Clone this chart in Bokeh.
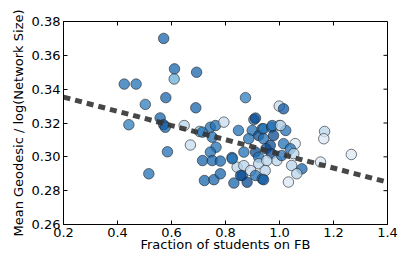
import math
from bokeh.plotting import figure
from bokeh.models import ColumnDataSource, FixedTicker, PrintfTickFormatter, Range1d
from bokeh.transform import linear_cmap
from bokeh.palettes import Blues256
from bokeh.embed import file_html
from bokeh.resources import INLINE

# fraction of students on FB, mean geodesic / log(network size), colour value
frac = [0.571, 0.611, 0.610, 0.425, 0.469, 0.503, 0.579, 0.693, 0.690, 0.558,
        0.442, 0.571, 0.577, 0.647, 0.670, 0.585, 0.516,
        0.874, 0.704, 0.715, 0.744, 0.763, 0.794, 0.751, 0.765, 0.744,
        0.715, 0.751, 0.781, 0.824, 0.848, 0.899, 0.905, 0.911, 0.722,
        0.757, 0.781, 0.831, 0.862, 0.880, 0.843, 0.868, 0.923, 0.936,
        0.886, 0.911, 0.923, 0.923, 0.868, 0.893, 0.856, 0.911, 0.936,
        0.999, 1.015, 0.941, 0.971, 0.999, 1.023, 0.978, 0.941, 1.058,
        1.015, 1.040, 0.966, 0.950, 0.971, 0.990, 0.953, 1.008, 1.045,
        1.083, 1.064, 0.947, 0.941, 1.033, 1.167, 1.164, 1.266, 1.152,
        1.053, 0.973, 1.004, 0.825]
geo = [0.370, 0.352, 0.346, 0.343, 0.343, 0.331, 0.335, 0.350, 0.329, 0.323,
       0.319, 0.319, 0.3175, 0.3185, 0.307, 0.303, 0.290,
       0.335, 0.315, 0.3146, 0.3175, 0.3185, 0.3205, 0.3116, 0.3057, 0.3028,
       0.2978, 0.2978, 0.2975, 0.2996, 0.3156, 0.3156, 0.322, 0.3229, 0.286,
       0.2865, 0.290, 0.2845, 0.289, 0.285, 0.2939, 0.3028, 0.3126, 0.3166,
       0.3107, 0.3028, 0.2998, 0.2959, 0.2948, 0.2919, 0.2890, 0.289, 0.287,
       0.330, 0.3284, 0.3166, 0.3175, 0.3185, 0.3156, 0.3126, 0.3107, 0.3078,
       0.3078, 0.3048, 0.3068, 0.3048, 0.3018, 0.2978, 0.2978, 0.3008, 0.2949,
       0.2929, 0.290, 0.2919, 0.2865, 0.2851, 0.315, 0.3107, 0.3014, 0.2969,
       0.3019, 0.3185, 0.3185, 0.2989]
shade = [0.8, 0.8, 0.5, 0.75, 0.75, 0.7, 0.8, 0.8, 0.8, 0.8,
         0.7, 0.9, 0.8, 0.3, 0.25, 0.75, 0.75,
         0.7, 0.45, 0.75, 0.75, 0.75, 0.25, 0.75, 0.75, 0.75,
         0.8, 0.8, 0.8, 0.75, 0.75, 0.75, 0.75, 0.9, 0.8,
         0.8, 0.8, 0.8, 0.8, 0.9, 0.3, 0.75, 0.9, 0.75,
         0.75, 0.9, 0.75, 0.3, 0.3, 0.25, 0.9, 0.75, 0.75,
         0.25, 0.85, 0.75, 0.75, 0.3, 0.75, 0.9, 0.75, 0.15,
         0.75, 0.75, 0.9, 0.9, 0.9, 0.3, 0.3, 0.75, 0.3,
         0.8, 0.3, 0.3, 0.85, 0.15, 0.3, 0.15, 0.15, 0.15,
         0.3, 0.75, 0.3, 0.75]

fit_x = [0.2, 1.4]
fit_y = [0.3353, 0.2850]

x_ticks = [0.2, 0.4, 0.6, 0.8, 1.0, 1.2, 1.4]
y_ticks = [0.26, 0.28, 0.30, 0.32, 0.34, 0.36, 0.38]

FONT = "DejaVu Sans"
FS = "13px"

p = figure(width=401, height=260, output_backend="svg", toolbar_location=None,
           x_range=Range1d(x_ticks[0], x_ticks[-1]), y_range=Range1d(y_ticks[0], y_ticks[-1]),
           min_border_left=63, min_border_right=14, min_border_top=21, min_border_bottom=36,
           x_axis_label="Fraction of students on FB",
           y_axis_label="Mean Geodesic / log(Network Size)")
p.grid.visible = False
p.outline_line_color = "black"
p.outline_line_width = 1
p.background_fill_color = "white"
p.border_fill_color = "white"

src = ColumnDataSource(dict(x=frac, y=geo, c=shade))
p.scatter("x", "y", source=src, size=10.5,
          fill_color=linear_cmap("c", list(reversed(Blues256)), 0, 1),
          fill_alpha=0.75, line_color="#222222", line_alpha=0.6, line_width=1)

p.line(fit_x, fit_y, line_color="#333333", line_width=5, line_dash="7 5", line_alpha=0.9)

# inward ticks on the top and right edges of the box
p.ray(x=x_ticks, y=[y_ticks[-1]] * len(x_ticks), length=4, angle=-math.pi / 2,
      length_units="screen", line_color="black", line_width=1)
p.ray(x=[x_ticks[-1]] * len(y_ticks), y=y_ticks, length=4, angle=math.pi,
      length_units="screen", line_color="black", line_width=1)

def style(ax, ticks, fmt, label_standoff, title_standoff):
    ax.ticker = FixedTicker(ticks=ticks)
    ax.formatter = PrintfTickFormatter(format=fmt)
    ax.major_tick_in = 4
    ax.major_tick_out = 0
    ax.minor_tick_line_color = None
    ax.axis_line_color = "black"
    ax.major_tick_line_color = "black"
    ax.major_label_text_font = FONT
    ax.major_label_text_color = "black"
    ax.major_label_text_font_size = FS
    ax.major_label_standoff = label_standoff
    ax.axis_label_text_font = FONT
    ax.axis_label_text_font_style = "normal"
    ax.axis_label_text_font_size = FS
    ax.axis_label_text_color = "black"
    ax.axis_label_standoff = title_standoff

style(p.xaxis[0], x_ticks, "%.1f", 3, -3)
style(p.yaxis[0], y_ticks, "%.2f", 3, 3)

open("out.html", "w").write(file_html(p, INLINE))
